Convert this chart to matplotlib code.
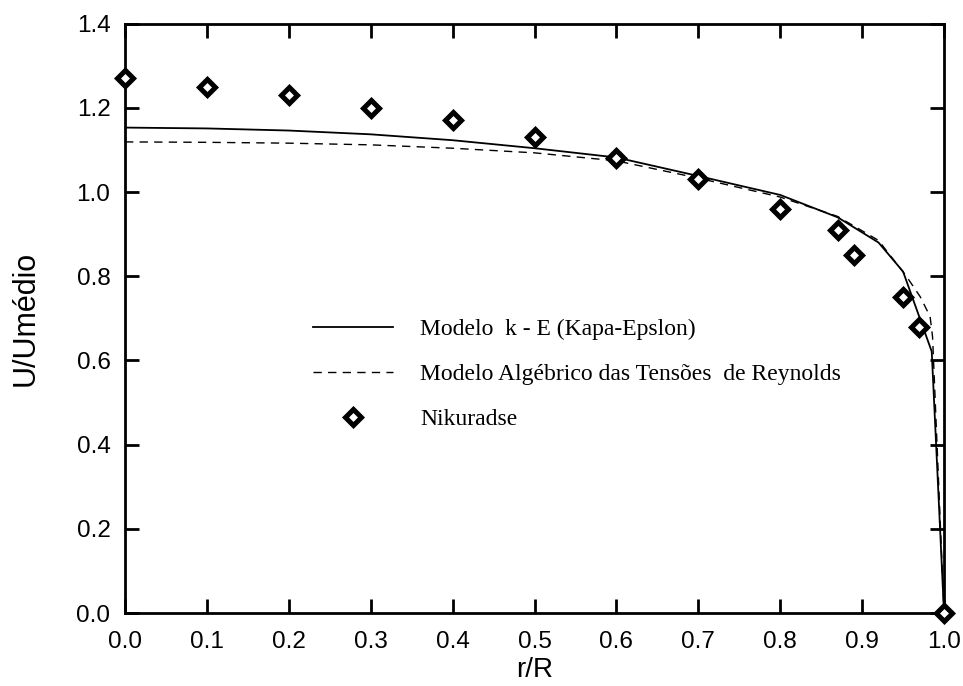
import matplotlib
matplotlib.use('Agg')
import matplotlib.pyplot as plt
from matplotlib.markers import MarkerStyle

# perfil de velocidade
r_ke = [0.0, 0.1, 0.2, 0.3, 0.4, 0.5, 0.6, 0.7, 0.8, 0.87, 0.92, 0.95, 0.985, 1.0]
u_ke = [1.153, 1.151, 1.146, 1.137, 1.123, 1.104, 1.082, 1.038, 0.993, 0.940, 0.880, 0.811, 0.621, 0.0]

r_asm = [0.0, 0.1, 0.2, 0.3, 0.4, 0.5, 0.6, 0.7, 0.8, 0.87, 0.92, 0.954, 0.971, 0.983, 0.986, 1.0]
u_asm = [1.119, 1.118, 1.116, 1.112, 1.104, 1.093, 1.074, 1.033, 0.988, 0.942, 0.885, 0.80, 0.751, 0.704, 0.656, 0.0]

r_nik = [0.0, 0.1, 0.2, 0.3, 0.4, 0.5, 0.6, 0.7, 0.8, 0.87, 0.89, 0.95, 0.97, 1.0]
u_nik = [1.27, 1.25, 1.23, 1.20, 1.17, 1.13, 1.08, 1.03, 0.96, 0.91, 0.85, 0.75, 0.68, 0.0]

labels = ['Modelo  k - E (Kapa-Epslon)',
          'Modelo Algébrico das Tensões  de Reynolds',
          'Nikuradse']

plt.rcParams['font.family'] = ['Liberation Sans', 'DejaVu Sans']

fig = plt.figure(figsize=(9.63, 6.86), dpi=100)
ax = fig.add_axes([0.1298, 0.1064, 0.8505, 0.8592])

ax.plot(r_ke, u_ke, color='black', lw=1.3, label=labels[0])
ax.plot(r_asm, u_asm, color='black', lw=1.0, dashes=(6, 4.5), label=labels[1])
ax.plot(r_nik, u_nik, linestyle='none', marker=MarkerStyle('D', joinstyle='miter'),
        ms=8, mew=3.6, mfc='white', mec='black', label=labels[2], clip_on=False, zorder=5)

ax.set_xlim(0, 1.0)
ax.set_ylim(0, 1.4)
ax.set_xticks([i / 10 for i in range(11)])
ax.set_yticks([i / 5 for i in range(8)])
ax.xaxis.set_major_formatter(matplotlib.ticker.FormatStrFormatter('%.1f'))
ax.yaxis.set_major_formatter(matplotlib.ticker.FormatStrFormatter('%.1f'))

for s in ax.spines.values():
    s.set_linewidth(2)
ax.tick_params(direction='in', length=10, width=2, top=True, right=True,
               labelsize=17.5)
ax.tick_params(axis='x', pad=13)
ax.tick_params(axis='y', pad=10.5)

ax.set_xlabel('r/R', fontsize=20, labelpad=3)
ax.set_ylabel('U/Umédio', fontsize=22, labelpad=26)

ax.legend(loc='upper left', bbox_to_anchor=(0.2295, 0.50), frameon=False,
          prop={'family': 'Liberation Serif', 'size': 17},
          handlelength=3.39, handletextpad=1.14, labelspacing=1.0,
          borderpad=0, borderaxespad=0)

fig.savefig('out.png', dpi=100)
